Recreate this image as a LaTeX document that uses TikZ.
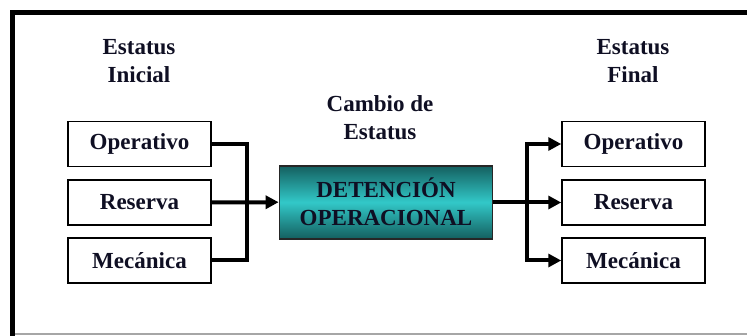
\documentclass[tikz,border=0pt]{standalone}
\usepackage{fontspec}
\setmainfont{Liberation Serif}
\usetikzlibrary{arrows.meta}
\definecolor{txt}{RGB}{15,15,35}
\definecolor{tealedge}{RGB}{20,95,95}
\definecolor{tealmid}{RGB}{50,200,200}
\tikzset{
  lbl/.style={font=\fontsize{23}{28}\selectfont\bfseries, text=txt, align=center, inner sep=0pt},
  statebox/.style={draw=black, line width=1.5pt, fill=white, minimum width=143pt, minimum height=45pt, inner sep=0pt, font=\fontsize{23}{28}\selectfont\bfseries, text=txt},
  centerbox/.style={draw=black!85, line width=1.8pt, minimum width=213pt, minimum height=73pt, inner sep=0pt, align=center,
    top color=tealedge, bottom color=tealedge, middle color=tealmid, font=\fontsize{23}{28}\selectfont\bfseries, text=txt},
  conn/.style={line width=4pt, draw=black},
  arr/.style={conn, -{Triangle[length=13pt,width=13pt]}},
  frameline/.style={line width=5pt, draw=black},
}
\begin{document}
\begin{tikzpicture}[x=1pt,y=-1pt]
\useasboundingbox (0,0) rectangle (747,336);
\fill[white] (0,0) rectangle (747,336);
% frame
\coordinate (f0) at (12.5,12.5);
\coordinate (f1) at (747,12.5);
\coordinate (f2) at (12.5,336);
\coordinate (g0) at (15,334);
\coordinate (g1) at (747,334);
\draw[frameline] (f1) -- (f0) -- (f2);
\draw[gray!70, line width=1.5pt] (g0) -- (g1);
% labels
\node[lbl] (ti) at (139,61) {Estatus\\Inicial};
\node[lbl] (tc) at (380,118) {Cambio de\\Estatus};
\node[lbl] (tf) at (633,61) {Estatus\\Final};
% left boxes
\node[statebox] (lo) at (139.5,144) {Operativo};
\node[statebox] (lr) at (139.5,202.5) {Reserva};
\node[statebox] (lm) at (139.5,260.5) {Mecánica};
% center
\node[centerbox] (c) at (386,202.2) {DETENCIÓN\\OPERACIONAL};
% right boxes
\node[statebox] (ro) at (633.5,144) {Operativo};
\node[statebox] (rr) at (633.5,202.5) {Reserva};
\node[statebox] (rm) at (633.5,260.5) {Mecánica};
% junctions
\coordinate (jl) at (247,202.5);
\coordinate (jr) at (527,202.5);
% connectors
\draw[conn] (lo.east) -| (jl) |- (lm.east);
\draw[arr] (lr.east) -- (c.west);
\draw[conn] (c.east |- jr) -- (jr);
\draw[arr] (jr) |- (ro.west);
\draw[arr] (jr) -- (rr.west);
\draw[arr] (jr) |- (rm.west);
\end{tikzpicture}
\end{document}
